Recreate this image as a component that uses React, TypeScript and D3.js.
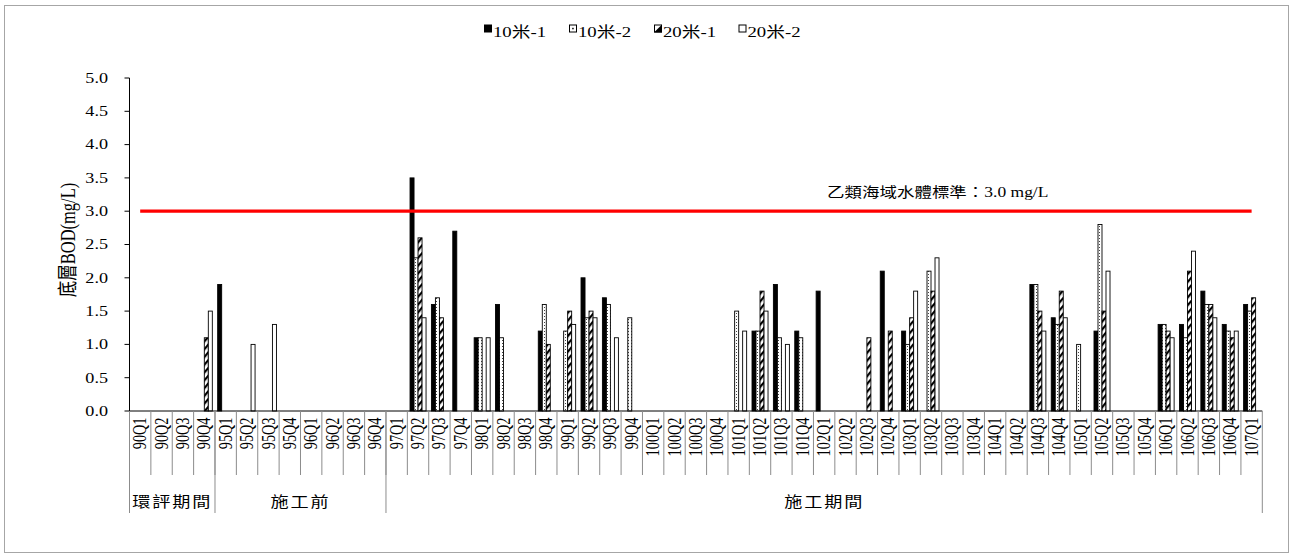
import React from 'react';
import * as d3 from 'd3';

const categories = [
  '90Q1', '90Q2', '90Q3', '90Q4',
  '95Q1', '95Q2', '95Q3', '95Q4',
  '96Q1', '96Q2', '96Q3', '96Q4',
  '97Q1', '97Q2', '97Q3', '97Q4',
  '98Q1', '98Q2', '98Q3', '98Q4',
  '99Q1', '99Q2', '99Q3', '99Q4',
  '100Q1', '100Q2', '100Q3', '100Q4',
  '101Q1', '101Q2', '101Q3', '101Q4',
  '102Q1', '102Q2', '102Q3', '102Q4',
  '103Q1', '103Q2', '103Q3', '103Q4',
  '104Q1', '104Q2', '104Q3', '104Q4',
  '105Q1', '105Q2', '105Q3', '105Q4',
  '106Q1', '106Q2', '106Q3', '106Q4',
  '107Q1',
];

const seriesNames = ['10米-1', '10米-2', '20米-1', '20米-2'];

const s10_1: (number | null)[] = [
  null, null, null, null,
  1.9, null, null, null,
  null, null, null, null,
  null, 3.5, 1.6, 2.7,
  1.1, 1.6, null, 1.2,
  null, 2.0, 1.7, null,
  null, null, null, null,
  null, 1.2, 1.9, 1.2,
  1.8, null, null, 2.1,
  1.2, null, null, null,
  null, null, 1.9, 1.4,
  null, 1.2, null, null,
  1.3, 1.3, 1.8, 1.3,
  1.6,
];

const s10_2: (number | null)[] = [
  null, null, null, null,
  null, null, null, null,
  null, null, null, null,
  null, 2.3, 1.7, null,
  1.1, 1.1, null, 1.6,
  1.2, 1.4, 1.6, 1.4,
  null, null, null, null,
  1.5, 1.2, 1.1, 1.1,
  null, null, null, null,
  1.0, 2.1, null, null,
  null, null, 1.9, 1.3,
  1.0, 2.8, null, null,
  1.3, 1.1, 1.6, 1.2,
  1.5,
];

const s20_1: (number | null)[] = [
  null, null, null, 1.1,
  null, null, null, null,
  null, null, null, null,
  null, 2.6, 1.4, null,
  null, null, null, 1.0,
  1.5, 1.5, null, null,
  null, null, null, null,
  null, 1.8, null, null,
  null, null, 1.1, 1.2,
  1.4, 1.8, null, null,
  null, null, 1.5, 1.8,
  null, 1.5, null, null,
  1.2, 2.1, 1.6, 1.1,
  1.7,
];

const s20_2: (number | null)[] = [
  null, null, null, 1.5,
  null, 1.0, 1.3, null,
  null, null, null, null,
  null, 1.4, null, null,
  1.1, null, null, null,
  1.3, 1.4, 1.1, null,
  null, null, null, null,
  1.2, 1.5, 1.0, null,
  null, null, null, null,
  1.8, 2.3, null, null,
  null, null, 1.2, 1.4,
  null, 2.1, null, null,
  1.1, 2.4, 1.4, 1.2,
  null,
];

const seriesValues = [s10_1, s10_2, s20_1, s20_2];

const yTicks = [0, 0.5, 1.0, 1.5, 2.0, 2.5, 3.0, 3.5, 4.0, 4.5, 5.0];
const STANDARD = 3.0;
const standardLabel = '乙類海域水體標準：3.0 mg/L';
const yTitle = '底層BOD(mg/L)';

const groupLabels = ['環評期間', '施工前', '施工期間'];
const groupStart = [0, 4, 12];
const groupEnd = [4, 12, 53];

const W = 1293;
const H = 560;
const SX = 1.25;
const FONT = '"Liberation Serif", "Noto Sans CJK TC", serif';

const fills = ['#000', 'url(#dots)', 'url(#hatch)', '#fff'];

export default function App() {
  const x0 = d3.scaleBand<string>().domain(categories).range([129.5, 1262.3]).padding(0);
  const x1 = d3
    .scaleBand<string>()
    .domain(seriesNames)
    .range([0, x0.bandwidth()])
    .paddingInner(0)
    .paddingOuter(0.67);
  const y = d3.scaleLinear().domain([0, 5]).range([411, 78]);

  const fmt = d3.format('.1f');
  const xFirst = (x0(categories[0]) as number) + x0.bandwidth() / 2;
  const xLast = (x0(categories[categories.length - 1]) as number) + x0.bandwidth() / 2;
  const redLine = d3.line<number>()([
    [xFirst, y(STANDARD)],
    [xLast, y(STANDARD)],
  ] as any);

  const bars: React.ReactNode[] = [];
  seriesValues.forEach((vals, si) => {
    vals.forEach((v, ci) => {
      if (v == null) return;
      const bx = (x0(categories[ci]) as number) + (x1(seriesNames[si]) as number);
      const by = y(v);
      bars.push(
        <rect
          key={`b${si}-${ci}`}
          x={bx}
          y={by}
          width={x1.bandwidth()}
          height={y(0) - by}
          fill={fills[si]}
          stroke="#000"
          strokeWidth={0.9}
        />
      );
    });
  });

  const legendX = [484, 569, 654, 738.5];
  const rangeEnd = 1262.3;
  const ts: React.CSSProperties = { fontFamily: FONT };

  return (
    <svg
      width={W}
      height={H}
      style={{ position: 'absolute', left: 0, top: 0, background: '#fff', fontFamily: FONT }}
    >
      <defs>
        <pattern id="dots" width={3} height={3} patternUnits="userSpaceOnUse">
          <rect width={3} height={3} fill="#fff" />
          <rect x={1} y={1} width={1} height={1} fill="#444" />
        </pattern>
        <pattern
          id="hatch"
          width={5}
          height={5}
          patternUnits="userSpaceOnUse"
          patternTransform="rotate(40)"
        >
          <rect width={5} height={5} fill="#fff" />
          <rect width={2.2} height={5} fill="#000" />
        </pattern>
      </defs>
      <rect x={0} y={0} width={W} height={H} fill="#fff" />
      <rect x={4.5} y={5.5} width={1284} height={547} fill="none" stroke="#a6a6a6" strokeWidth={1} />

      {/* legend */}
      {seriesNames.map((n, i) => (
        <g key={n}>
          {i === 0 && <rect x={legendX[i]} y={24.5} width={8} height={8} fill="#000" />}
          {i === 1 && (
            <g>
              <rect x={legendX[i] + 0.5} y={25} width={7} height={7} fill="#fff" stroke="#000" strokeWidth={1} />
              <rect x={legendX[i] + 3.2} y={27.8} width={1.5} height={1.5} fill="#000" />
            </g>
          )}
          {i === 2 && (
            <g>
              <rect x={legendX[i] + 0.5} y={25} width={7} height={7} fill="#fff" stroke="#000" strokeWidth={1} />
              <path d={`M${legendX[i] + 8},${24.5} L${legendX[i] + 8},${32.5} L${legendX[i]},${32.5} Z`} fill="#000" />
            </g>
          )}
          {i === 3 && (
            <rect x={legendX[i] + 0.5} y={25} width={7} height={7} fill="#fff" stroke="#000" strokeWidth={1} />
          )}
          <text
            transform={`translate(${legendX[i] + 9},36.5) scale(${SX},1)`}
            fontSize={15}
            fill="#000"
            style={ts}
          >
            {n}
          </text>
        </g>
      ))}

      {/* y axis */}
      <line x1={129.5} x2={129.5} y1={y(5)} y2={y(0)} stroke="#000" strokeWidth={1} />
      {yTicks.map((t) => (
        <g key={t}>
          <line x1={124.5} x2={129.5} y1={y(t)} y2={y(t)} stroke="#000" strokeWidth={1} />
          <text
            transform={`translate(108,${y(t)}) scale(${SX},1)`}
            textAnchor="end"
            dominantBaseline="central"
            fontSize={14.5}
            fill="#000"
            style={ts}
          >
            {fmt(t)}
          </text>
        </g>
      ))}
      <text
        transform={`translate(68,240) scale(${SX},1) rotate(-90)`}
        textAnchor="middle"
        dominantBaseline="central"
        fontSize={16.5}
        fill="#000"
        style={ts}
      >
        {yTitle}
      </text>

      {/* bars */}
      {bars}

      {/* standard line */}
      <path d={redLine as string} stroke="#ff0000" strokeWidth={3.3} fill="none" />
      <text
        transform={`translate(827,196.5) scale(${SX},1)`}
        fontSize={14}
        fill="#000"
        style={ts}
      >
        {standardLabel}
      </text>

      {/* x axis */}
      <line x1={129.5} x2={rangeEnd} y1={y(0)} y2={y(0)} stroke="#000" strokeWidth={1} />
      {categories.map((c, i) => {
        const xs = x0(c) as number;
        return i === 0 ? null : (
          <line key={`sep${c}`} x1={xs} x2={xs} y1={y(0)} y2={475} stroke="#8c8c8c" strokeWidth={1} />
        );
      })}
      {groupStart.map((gs, gi) => {
        const xs = gi === 0 ? 129.5 : (x0(categories[gs]) as number);
        return <line key={`g${gi}`} x1={xs} x2={xs} y1={y(0)} y2={513} stroke="#8c8c8c" strokeWidth={1} />;
      })}
      <line x1={rangeEnd} x2={rangeEnd} y1={y(0)} y2={513} stroke="#8c8c8c" strokeWidth={1} />
      {categories.map((c) => {
        const cx = (x0(c) as number) + x0.bandwidth() / 2;
        return (
          <text
            key={`lbl${c}`}
            transform={`translate(${cx},417.5) scale(${SX},1) rotate(-90)`}
            textAnchor="end"
            dominantBaseline="central"
            fontSize={14.3}
            fill="#000"
            style={ts}
          >
            {c}
          </text>
        );
      })}
      {groupLabels.map((g, gi) => {
        const a = gi === 0 ? 129.5 : (x0(categories[groupStart[gi]]) as number);
        const b = groupEnd[gi] >= categories.length ? rangeEnd : (x0(categories[groupEnd[gi]]) as number);
        return (
          <text
            key={`gl${gi}`}
            transform={`translate(${(a + b) / 2},502) scale(${SX},1)`}
            textAnchor="middle"
            dominantBaseline="central"
            fontSize={14.5}
            letterSpacing={1.5}
            fill="#000"
            style={ts}
          >
            {g}
          </text>
        );
      })}
    </svg>
  );
}
